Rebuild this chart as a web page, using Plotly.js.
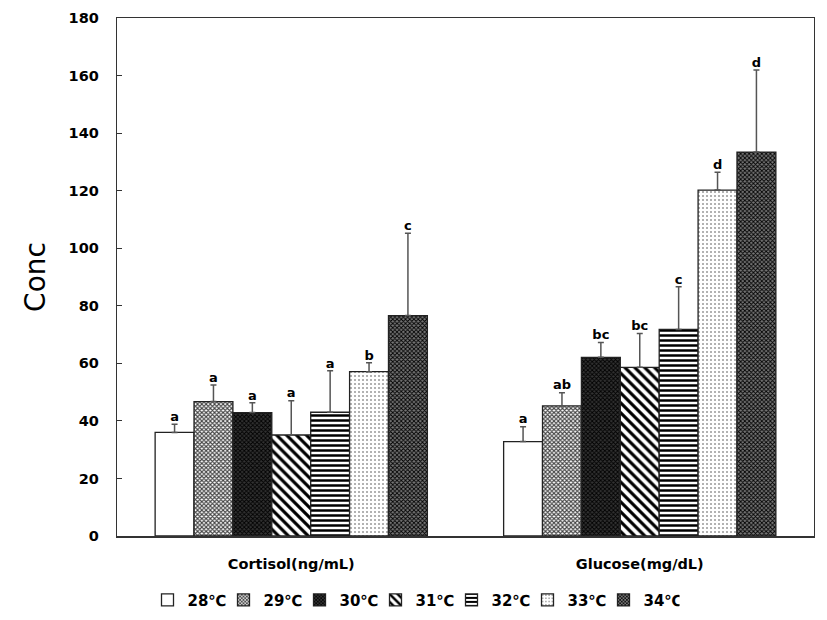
<!DOCTYPE html>
<html><head><meta charset="utf-8">
<script src="https://cdn.plot.ly/plotly-3.0.1.min.js"></script>
</head><body style="margin:0;background:#fff">
<div id="chart" style="width:827px;height:620px"></div>
<script>
const categories = ['Cortisol(ng/mL)', 'Glucose(mg/dL)'];
const seriesNames = ['28℃', '29℃', '30℃', '31℃', '32℃', '33℃', '34℃'];
const mean28 = [36.0, 32.8], err28 = [2.8, 5.2], sig28 = ['a', 'a'];
const mean29 = [46.7, 45.2], err29 = [5.8, 4.6], sig29 = ['a', 'ab'];
const mean30 = [42.9, 62.1], err30 = [3.4, 5.1], sig30 = ['a', 'bc'];
const mean31 = [35.1, 58.6], err31 = [11.9, 11.8], sig31 = ['a', 'bc'];
const mean32 = [43.0, 71.8], err32 = [14.4, 14.8], sig32 = ['a', 'c'];
const mean33 = [57.1, 120.2], err33 = [3.1, 6.2], sig33 = ['b', 'd'];
const mean34 = [76.6, 133.4], err34 = [28.6, 28.5], sig34 = ['c', 'd'];
const yTicks = [0, 20, 40, 60, 80, 100, 120, 140, 160, 180];

const means = [mean28, mean29, mean30, mean31, mean32, mean33, mean34];
const errs = [err28, err29, err30, err31, err32, err33, err34];
const sigs = [sig28, sig29, sig30, sig31, sig32, sig33, sig34];

const patterns = [
  {shape: '', bgcolor: '#ffffff', fgcolor: '#ffffff', size: 6, solidity: 0.3},
  {shape: 'x', bgcolor: '#ffffff', fgcolor: '#444444', size: 3, solidity: 0.6},
  {shape: 'x', bgcolor: '#333333', fgcolor: '#000000', size: 3, solidity: 0.5},
  {shape: '\\', bgcolor: '#ffffff', fgcolor: '#000000', size: 7, solidity: 0.45},
  {shape: '-', bgcolor: '#ffffff', fgcolor: '#000000', size: 5, solidity: 0.5},
  {shape: '.', bgcolor: '#ffffff', fgcolor: '#999999', size: 4, solidity: 0.2},
  {shape: 'x', bgcolor: '#777777', fgcolor: '#000000', size: 3, solidity: 0.5}
];

const FONT = '"DejaVu Sans", sans-serif';
const barW = 0.1116;
const catX = categories.map((c, i) => i);
const traces = [];
seriesNames.forEach((name, s) => {
  const xs = catX.map(x => x + (s - 3) * barW);
  traces.push({
    type: 'bar', name: name, x: xs, y: means[s], width: barW,
    marker: {color: patterns[s].bgcolor, line: {color: '#222', width: 1.3},
      pattern: Object.assign({fillmode: 'replace'}, patterns[s])},
    error_y: {type: 'data', symmetric: false, array: errs[s], arrayminus: [0, 0],
      color: '#555', thickness: 1.5, width: 3},
    hoverinfo: 'skip'
  });
});
seriesNames.forEach((name, s) => {
  const xs = catX.map(x => x + (s - 3) * barW);
  traces.push({
    type: 'scatter', mode: 'text', showlegend: false,
    x: xs, y: means[s].map((m, i) => m + errs[s][i]), text: sigs[s],
    textposition: 'top center',
    textfont: {family: FONT, size: 13, color: '#000', weight: 'bold'},
    hoverinfo: 'skip'
  });
});

const layout = {
  width: 827, height: 620,
  margin: {l: 117, r: 13, t: 18, b: 84},
  paper_bgcolor: '#fff', plot_bgcolor: '#fff',
  barmode: 'overlay',
  font: {family: FONT, color: '#000'},
  xaxis: {
    range: [-0.5, 1.5], tickvals: catX, ticktext: categories,
    showline: true, mirror: true, linecolor: '#333', linewidth: 1.5,
    ticks: '', showgrid: false, zeroline: false, ticklabelstandoff: 14,
    tickfont: {family: FONT, size: 14.5, weight: 'bold', color: '#000'}
  },
  yaxis: {
    range: [0, 180], tickvals: yTicks,
    showline: true, mirror: true, linecolor: '#333', linewidth: 1.2,
    ticks: 'inside', ticklen: 5, tickcolor: '#333',
    showgrid: false, zeroline: false, ticklabelstandoff: 14,
    tickfont: {family: FONT, size: 14.5, weight: 'bold', color: '#000'},
    title: {text: 'Conc', font: {family: FONT, size: 28, color: '#000'}, standoff: 14}
  },
  legend: {
    orientation: 'h', xref: 'container', yref: 'container',
    x: 0.5, xanchor: 'center', y: 0.032, yanchor: 'middle',
    font: {family: FONT, size: 15, weight: 'bold', color: '#000'},
    itemwidth: 30, tracegroupgap: 0, entrywidth: 31, entrywidthmode: 'pixels'
  },
  showlegend: true
};
Plotly.newPlot('chart', traces, layout, {displayModeBar: false, staticPlot: true});
</script>
</body></html>
